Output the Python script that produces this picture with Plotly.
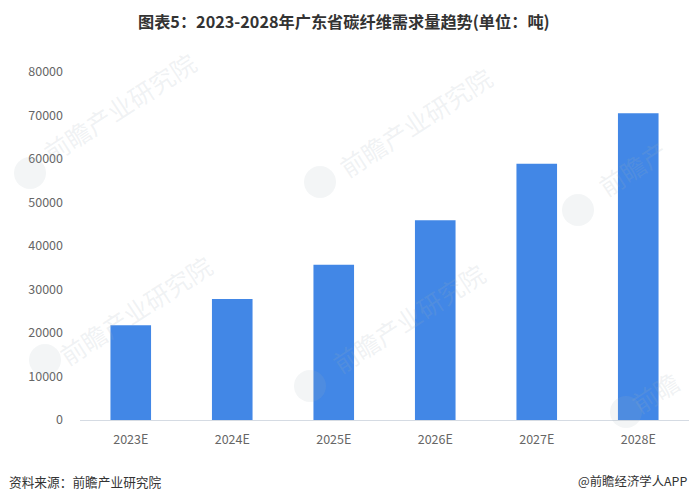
import plotly.graph_objects as go

categories = ["2023E", "2024E", "2025E", "2026E", "2027E", "2028E"]
values = [21800, 27800, 35700, 45900, 58900, 70500]
tick_values = [0, 10000, 20000, 30000, 40000, 50000, 60000, 70000, 80000]
title = "图表5：2023-2028年广东省碳纤维需求量趋势(单位：吨)"
source = "资料来源：前瞻产业研究院"
credit = "@前瞻经济学人APP"
watermarks = [
    ("前瞻产业研究院", 119, 107),
    ("前瞻产业研究院", 415, 122),
    ("前瞻产", 632, 168),
    ("前瞻产业研究院", 135, 310),
    ("前瞻产业研究院", 408, 318),
    ("前瞻", 655, 392),
]
logo_px = [(30, 173), (320, 182), (578, 210), (45, 360), (310, 386), (626, 412)]

FIG_W, FIG_H = 689, 502
L, R, T, B = 80, 0, 72, 82
FONT = "Noto Sans CJK SC, Noto Sans, sans-serif"


def px_x(x):
    return (x - L) / (FIG_W - L - R)


def px_y(y):
    return 1 - (y - T) / (FIG_H - T - B)


annotations = []
for (label, wx, wy) in watermarks:
    annotations.append(dict(text=label, xref="paper", yref="paper", x=px_x(wx), y=px_y(wy), showarrow=False,
                            textangle=-33, xanchor="center", yanchor="middle",
                            font=dict(size=25, color="rgba(160,175,185,0.17)", family=FONT)))
annotations.append(dict(text=f"<b>{title}</b>", xref="paper", yref="paper", x=px_x(344), y=px_y(21), showarrow=False,
                        xanchor="center", yanchor="middle",
                        font=dict(size=16.2, color="#333333", family="Noto Sans CJK SC, sans-serif")))
annotations.append(dict(text=source, xref="paper", yref="paper", x=px_x(6.5), y=px_y(481), xanchor="left",
                        yanchor="middle", showarrow=False, font=dict(size=12.7, color="#333333", family=FONT)))
annotations.append(dict(text=credit, xref="paper", yref="paper", x=px_x(689), y=px_y(481), xanchor="right",
                        yanchor="middle", showarrow=False, font=dict(size=12.4, color="#333333", family=FONT)))

shapes = []
for (lx, ly) in logo_px:
    shapes.append(dict(type="circle", xref="paper", yref="paper", layer="above", line_width=0,
                       fillcolor="rgba(160,175,185,0.13)",
                       x0=px_x(lx - 16), x1=px_x(lx + 16), y0=px_y(ly + 16), y1=px_y(ly - 16)))

fig = go.Figure(go.Bar(x=categories, y=values, width=0.4, marker=dict(color="#4287e6", line_width=0)))
fig.update_layout(
    width=FIG_W, height=FIG_H,
    margin=dict(l=L, r=R, t=T, b=B, autoexpand=False),
    paper_bgcolor="white", plot_bgcolor="white", showlegend=False,
    font=dict(family=FONT, size=12, color="#666666"),
    annotations=annotations,
    shapes=shapes,
    xaxis=dict(showline=True, linecolor="#d5dbe3", linewidth=1, ticks="", showgrid=False,
               ticklabelstandoff=8, tickfont=dict(size=12.5, color="#666666")),
    yaxis=dict(range=[0, 80000], tickvals=tick_values, tickformat="d", showgrid=False, zeroline=False,
               showline=False, ticks="", ticklabelstandoff=16, tickfont=dict(size=12.5, color="#666666")),
)
fig.write_html("out.html", post_script="document.body.style.margin='0';", config={"displayModeBar": False})
